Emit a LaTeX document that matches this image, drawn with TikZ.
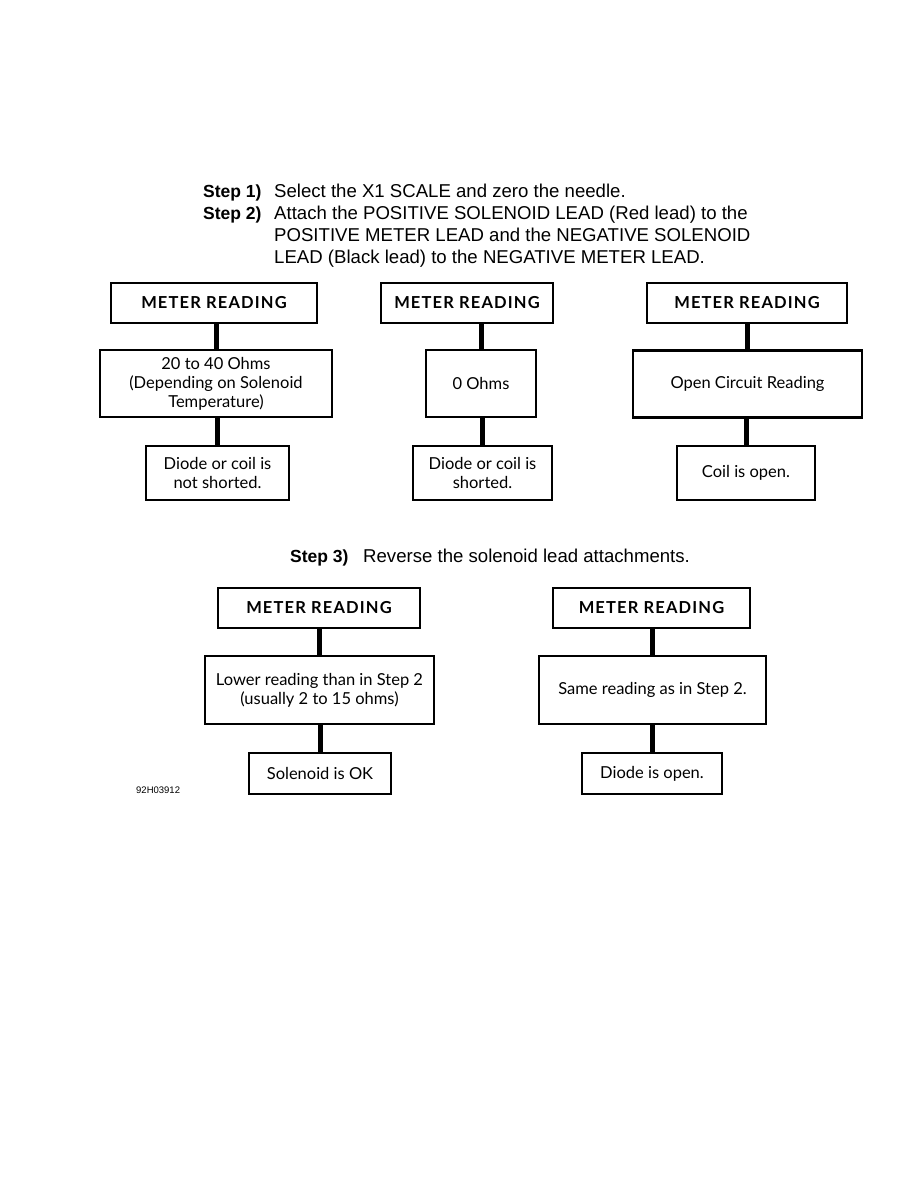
\documentclass[tikz,border=0pt]{standalone}
\usepackage{fontspec}
\setmainfont{Liberation Sans}
\newfontfamily\boxfont{Lato}
\newfontfamily\boxcaps[LetterSpace=7]{Lato Bold}
\usetikzlibrary{positioning,calc}
\tikzset{
	mrbox/.style={rectangle, draw=black, line width=2.4pt, fill=white, inner sep=0pt,
		minimum height=40pt, align=center, font=\boxcaps\fontsize{16.5}{18}\selectfont},
	valbox/.style={rectangle, draw=black, line width=2.4pt, fill=white, inner sep=0pt,
		minimum height=67pt, align=center, font=\boxfont\fontsize{16.5}{19}\selectfont},
	resbox/.style={rectangle, draw=black, line width=2.4pt, fill=white, inner sep=0pt,
		align=center, font=\boxfont\fontsize{16.5}{19}\selectfont},
	steptag/.style={anchor=base west, inner sep=0pt, font=\bfseries\fontsize{17.5}{21}\selectfont},
	steptext/.style={anchor=base west, inner sep=0pt, font=\fontsize{18.6}{21}\selectfont},
	link/.style={line width=5pt}
}
\begin{document}
\begin{tikzpicture}[x=1pt, y=-1pt]
	\useasboundingbox[fill=white] (0,0) rectangle (918,1188);
	% instructions
	\node[steptag] (s1) at (203,197) {Step 1)};
	\node[steptext] (t1) at (274,197) {Select the X1 SCALE and zero the needle.};
	\node[steptag] (s2) at (203,219) {Step 2)};
	\node[steptext] (t2a) at (274,219) {Attach the POSITIVE SOLENOID LEAD (Red lead) to the};
	\node[steptext] (t2b) at (274,241) {POSITIVE METER LEAD and the NEGATIVE SOLENOID};
	\node[steptext] (t2c) at (274,263) {LEAD (Black lead) to the NEGATIVE METER LEAD.};
	% first row of checks
	\node[mrbox, minimum width=206pt] (mr1) at (214,303) {METER READING};
	\node[valbox, minimum width=232pt] (v1) at (216,383.5) {20 to 40 Ohms\\(Depending on Solenoid\\Temperature)};
	\node[resbox, minimum width=143pt, minimum height=54pt] (r1) at (217.5,473) {Diode or coil is\\not shorted.};
	\node[mrbox, minimum width=172pt] (mr2) at (467,303) {METER READING};
	\node[valbox, minimum width=110pt] (v2) at (481,383.5) {0 Ohms};
	\node[resbox, minimum width=139pt, minimum height=54pt] (r2) at (482.5,473) {Diode or coil is\\shorted.};
	\node[mrbox, minimum width=200pt] (mr3) at (747,303) {METER READING};
	\node[valbox, minimum width=229pt] (v3) at (747.5,384) {Open Circuit Reading};
	\node[resbox, minimum width=138pt, minimum height=54pt] (r3) at (746,473) {Coil is open.};
	\foreach \a/\b in {mr1/v1, v1/r1, mr2/v2, v2/r2, mr3/v3, v3/r3}
		\draw[link] (\b.north) -- (\b.north |- \a.south);
	% step 3
	\node[steptag] (s3) at (290,562) {Step 3)};
	\node[steptext] (t3) at (363,562) {Reverse the solenoid lead attachments.};
	\node[mrbox, minimum width=202pt] (mr4) at (319,608) {METER READING};
	\node[valbox, minimum width=229pt, minimum height=68pt] (v4) at (319.5,690) {Lower reading than in Step 2\\(usually 2 to 15 ohms)};
	\node[resbox, minimum width=142pt, minimum height=41pt] (r4) at (320,773.5) {Solenoid is OK};
	\node[mrbox, minimum width=197pt] (mr5) at (651.5,608) {METER READING};
	\node[valbox, minimum width=227pt, minimum height=68pt] (v5) at (652.5,690) {Same reading as in Step 2.};
	\node[resbox, minimum width=140pt, minimum height=41pt] (r5) at (652,773.5) {Diode is open.};
	\foreach \a/\b in {mr4/v4, v4/r4, mr5/v5, v5/r5}
		\draw[link] (\b.north) -- (\b.north |- \a.south);
	\node[anchor=base west, inner sep=0pt, font=\fontsize{9.5}{11}\selectfont] (fig) at (136,793) {92H03912};
\end{tikzpicture}
\end{document}
